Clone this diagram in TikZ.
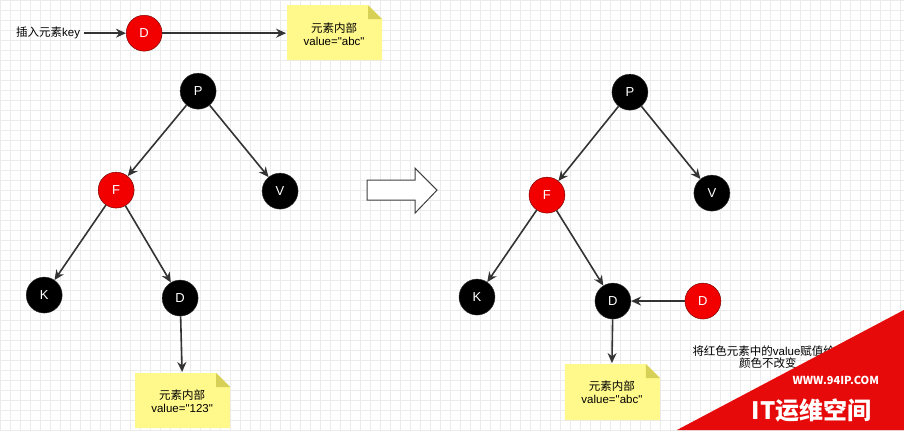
\documentclass[tikz,border=0pt]{standalone}
\usepackage{fontspec}
\usetikzlibrary{arrows.meta}
\setmainfont{Noto Sans CJK SC}
\newfontfamily\lat{Liberation Sans}
\begin{document}
\begin{tikzpicture}[x=1pt,y=-1pt,
 bn/.style={circle,draw=black!80,fill=black,text=white,minimum size=36pt,inner sep=0pt,font=\lat\fontsize{13}{13}\selectfont},
 rn/.style={bn,fill=red!95!black,draw=red!40!black},
 edge/.style={draw=black!80,line width=1.6pt,-{Stealth[length=10pt,width=9pt]}},
 note/.style={font=\fontsize{11.5}{12.5}\selectfont,align=center}]
\fill[white] (0,0) rectangle (904,430);
\draw[black!8,step=10pt] (0,0) grid (904,430);
\useasboundingbox (0,0) rectangle (904,430);
% top
\node[font=\fontsize{11.5}{12}\selectfont] (lab) at (48,33) {插入元素{\lat key}};
\node[rn] (d0) at (144,33) {D};
\fill[yellow!45!white] (287,5) -- (368,5) -- (382,19) -- (382,60) -- (287,60) -- cycle;
\fill[yellow!40!olive!60] (368,5) -- (382,19) -- (368,19) -- cycle;
\node[note] (n0) at (334,34) {元素内部\\{\lat value="abc"}};
\coordinate (n0w) at (286,33);
\draw[edge] (lab.east) -- (d0);
\draw[edge] (d0) -- (n0w);
% left tree
\node[bn] (p1) at (198,91) {P};
\node[rn] (f1) at (116,190) {F};
\node[bn] (v1) at (280,191) {V};
\node[bn] (k1) at (44,295) {K};
\node[bn] (d1) at (180,298) {D};
\fill[yellow!45!white] (135,373) -- (216,373) -- (230,387) -- (230,428) -- (135,428) -- cycle;
\fill[yellow!40!olive!60] (216,373) -- (230,387) -- (216,387) -- cycle;
\node[note] (n1) at (182,401) {元素内部\\{\lat value="123"}};
\coordinate (n1t) at (182,372);
\draw[edge] (p1) -- (f1); \draw[edge] (p1) -- (v1);
\draw[edge] (f1) -- (k1); \draw[edge] (f1) -- (d1);
\draw[edge] (d1) -- (n1t);
% hollow arrow
\draw[black!75,line width=1pt,fill=white] (367,180) -- (415,180) -- (415,168) -- (437,190) -- (415,213) -- (415,200) -- (367,200) -- cycle;
% right tree
\node[bn] (p2) at (630,92) {P};
\node[rn] (f2) at (547,195) {F};
\node[bn] (v2) at (712,193) {V};
\node[bn] (k2) at (477,297) {K};
\node[bn] (d2) at (613,301) {D};
\node[rn] (r2) at (703,301) {D};
\fill[yellow!45!white] (565,364) -- (646,364) -- (660,378) -- (660,420) -- (565,420) -- cycle;
\fill[yellow!40!olive!60] (646,364) -- (660,378) -- (646,378) -- cycle;
\node[note] (n2) at (612,392) {元素内部\\{\lat value="abc"}};
\coordinate (n2t) at (612,363);
\draw[edge] (p2) -- (f2); \draw[edge] (p2) -- (v2);
\draw[edge] (f2) -- (k2); \draw[edge] (f2) -- (d2);
\draw[edge] (r2) -- (d2);
\draw[edge] (d2) -- (n2t);
\node[note] (txt) at (768,357) {将红色元素中的{\lat value}赋值给{\lat D}\\颜色不改变};
% watermark
\fill[red!90!black!95!pink] (677,430) -- (904,310) -- (904,430) -- cycle;
\node[text=white,font=\bfseries\fontsize{11}{11}\selectfont] (w1) at (836,380) {WWW.94IP.COM};
\node[text=white,font=\bfseries\fontsize{24}{24}\selectfont] (w2) at (812,410) {IT运维空间};
\end{tikzpicture}
\end{document}
